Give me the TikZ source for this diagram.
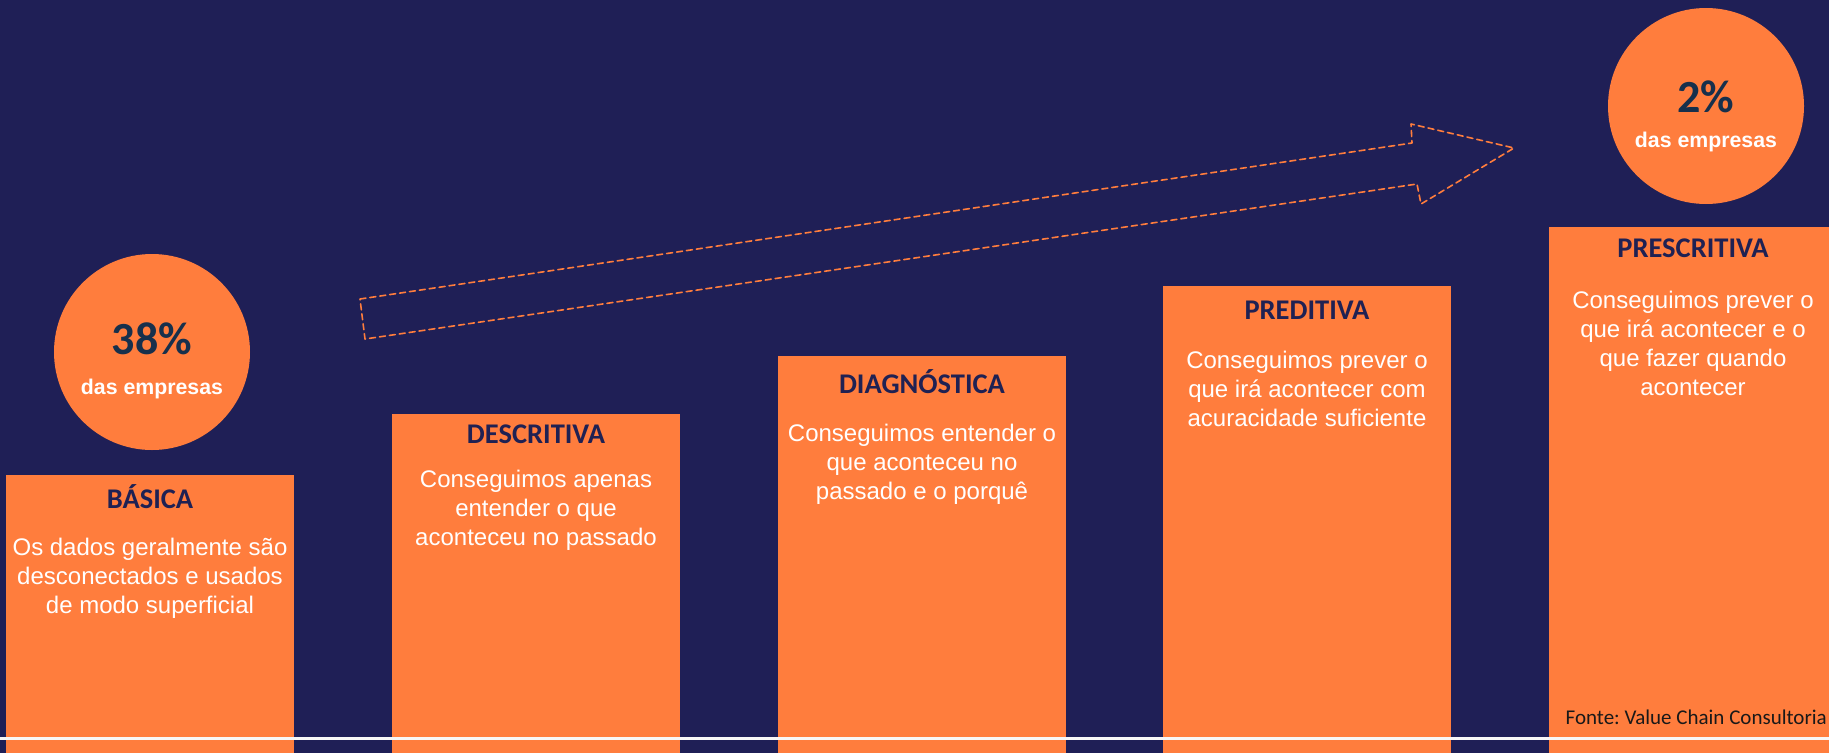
\documentclass[tikz,border=0pt]{standalone}
\usepackage{fontspec}
\setmainfont{Liberation Sans}
\newfontfamily\calibri{Carlito}
\definecolor{fundo}{HTML}{1F1F56}
\definecolor{laranja}{HTML}{FF7D3D}
\definecolor{titulo}{HTML}{1F2153}
\definecolor{numero}{HTML}{17304C}
\frenchspacing
\begin{document}
\begin{tikzpicture}[x=1pt,y=-1pt,line join=round,line cap=round,
	barra/.style={fill=laranja},
	bola/.style={circle,fill=laranja,minimum size=196pt,inner sep=0pt},
	pct/.style={anchor=base,inner sep=0pt,text=numero,font=\calibri\bfseries\fontsize{46}{46}\selectfont},
	empresas/.style={anchor=base,inner sep=0pt,text=white,font=\bfseries\fontsize{21.3}{24}\selectfont},
	nivel/.style={anchor=base,inner sep=0pt,text=titulo,font=\calibri\bfseries\fontsize{28.5}{30}\selectfont},
	desc/.style={anchor=north,inner sep=0pt,align=center,text=white,font=\fontsize{24}{29}\selectfont},
	seta/.style={draw=laranja,line width=1.6pt,dash pattern=on 6pt off 4pt}]
	\fill[fundo] (0,0) rectangle (1829,753);
	\useasboundingbox (0,0) rectangle (1829,753);
	\path (360,299) coordinate (T1)
	(1412,143) coordinate (H1)
	(1411,124) coordinate (P1)
	(1514,148) coordinate (P)
	(1421,204) coordinate (P2)
	(1417,184) coordinate (H2)
	(365,339) coordinate (T2)
	(0,738) coordinate (L1)
	(1829,738) coordinate (L2)
	;
	\foreach \n/\x/\t/\ty/\by/\titulo/\desc in {
		basica/6/475/508/538/BÁSICA/{Os dados geralmente são\\desconectados e usados\\de modo superficial},
		descritiva/392/414/443/470/DESCRITIVA/{Conseguimos apenas\\entender o que\\aconteceu no passado},
		diagnostica/778/356/393/424/DIAGNÓSTICA/{Conseguimos entender o\\que aconteceu no\\passado e o porquê},
		preditiva/1163/286/319/351/PREDITIVA/{Conseguimos prever o\\que irá acontecer com\\acuracidade suficiente},
		prescritiva/1549/227/257/291/PRESCRITIVA/{Conseguimos prever o\\que irá acontecer e o\\que fazer quando\\acontecer}}
	{
		\fill[barra] (\x,\t) rectangle ++(288,753-\t);
		\node[nivel] (tit-\n) at (\x+144,\ty) {\titulo};
		\node[desc] (txt-\n) at (\x+144,\by) {\desc};
	}
	\draw[seta] (T1)--(H1)--(P1)--(P)--(P2)--(H2)--(T2)--cycle;
	\node[bola] (b38) at (152,352) {};
	\node[pct] (n38) at ([yshift=-2pt]b38.center) {38\%};
	\node[empresas] (e38) at ([yshift=-42pt]b38.center) {das empresas};
	\node[bola] (b2) at (1706,106) {};
	\node[pct] (n2) at ([yshift=-6pt]b2.center) {2\%};
	\node[empresas] (e2) at ([yshift=-41pt]b2.center) {das empresas};
	% \draw[white] (b38) -- (b2);
	\draw[line width=3pt,color=white!94!gray] (L1)--(L2);
	\node[anchor=east,inner sep=0pt,font=\calibri\fontsize{21}{24}\selectfont,text=black!90] (fonte) at (1827,717) {Fonte: Value Chain Consultoria};
\end{tikzpicture}
\end{document}
